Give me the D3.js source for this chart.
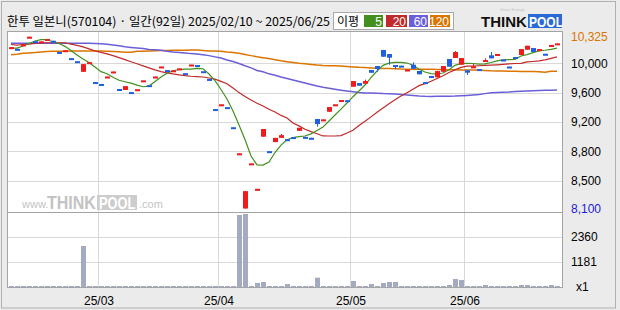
<!DOCTYPE html>
<html>
<head>
<meta charset="utf-8">
<script src="https://cdn.jsdelivr.net/npm/d3@7"></script>
<style>
  body { margin: 0; background: #ebebeb; }
  svg { display: block; }
  text { font-family: "Liberation Sans", Arial, sans-serif; }
  .kr { font-family: "Noto Sans CJK KR", sans-serif; }
</style>
</head>
<body>
<svg id="chart"></svg>
<script>
// ---- data (92 trading days, 2025/02/10 ~ 2025/06/25) ----
const titleText = '한투 일본니(570104) · 일간(92일) 2025/02/10 ~ 2025/06/25';

const opens = [10187,10168,10222,10305,10268,10245,10282,10273,10128,10135,10048,10008,9870,9992,9738,9713,9807,9872,9648,9635,
  9608,9642,9757,9698,9807,9937,9893,9887,9912,9853,9962,9958,9878,9778,9388,9447,9413,9153,8800,8100,
  8682,8352,9030,8843,8960,9015,8998,9025,9105,9028,9016,9259,9252,9353,9447,9483,9503,9677,9725,9716,
  9894,9945,10153,10101,9958,9950,9897,9962,9881,9737,9816,9799,9871,10036,10049,9962,9890,9928,9906,10001,
  10084,10098,10030,9939,10062,10088,10156,10178,10162,10104,10215,10236];
const closes = [10190,10165,10225,10325,10265,10265,10295,10270,10125,10150,10045,10005,9970,9995,9735,9710,9810,9875,9645,9685,
  9605,9645,9760,9695,9810,9940,9890,9890,9915,9850,9965,9955,9875,9775,9385,9450,9410,9150,8815,8325,
  8685,8355,9130,8840,9015,9050,8995,9000,9146,9025,9013,9194,9255,9414,9450,9505,9500,9751,9690,9751,
  9858,9906,10066,10053,9936,9945,9900,9910,9838,9734,9794,9880,9945,9936,10127,10049,9859,9941,9903,10023,
  10045,10101,10027,9936,10036,10165,10208,10127,10165,10101,10218,10239];
// wick extremes only where a wick is visible (null = body edge)
const highs = [null,null,null,null,null,null,null,null,null,null,null,null,null,null,null,null,null,null,null,null,
  null,null,null,null,null,null,null,null,null,null,null,null,null,null,null,null,null,null,null,null,
  null,null,null,null,null,9065,null,null,null,null,null,null,null,null,null,null,null,null,null,9770,
  null,null,10155,null,null,null,null,9993,null,null,null,null,null,null,10140,null,null,9971,null,10045,
  10127,null,null,null,null,null,null,null,null,null,null,null];
const lows = [null,null,null,null,null,null,null,null,null,null,null,null,null,null,null,null,null,null,null,null,
  null,null,null,null,null,null,null,null,null,null,null,null,null,null,null,null,null,null,null,null,
  null,null,null,null,null,null,null,null,null,null,null,9159,null,null,null,null,null,null,null,null,
  null,9872,null,9962,9906,null,null,null,null,null,null,null,null,null,null,null,9829,null,null,null,
  null,null,null,null,null,null,null,null,null,null,10195,null];

const volumes = [45,40,50,45,40,45,50,45,40,45,50,45,1935,45,40,45,50,45,40,45,
  45,40,45,50,45,40,45,45,50,40,45,45,40,45,50,45,45,40,3400,3445,
  45,190,236,45,40,45,140,45,40,45,50,440,45,40,45,50,45,283,45,40,
  140,45,190,236,236,45,40,45,50,45,40,45,45,94,378,330,45,40,45,94,
  45,40,45,50,45,94,94,45,40,45,94,45];

const ma5 = [10178,10178,10204,10237,10269,10288,10288,10256,10237,10200,10146,10088,10036,9991,9932,9872,9846,9799,9761,9742,
  9723,9699,9677,9686,9745,9803,9851,9884,9900,9904,9906,9914,9910,9842,9757,9641,9518,9362,9181,8993,
  8780,8666,8663,8702,8825,8922,8990,9019,9032,9039,9067,9110,9155,9233,9311,9388,9466,9548,9622,9699,
  9794,9881,9954,9982,9993,9992,9984,9956,9903,9868,9847,9842,9855,9897,9954,9980,9980,9978,9971,9974,
  9991,10013,10024,10028,10032,10075,10094,10118,10142,10150,10162,10178];
const ma20 = [10224,10217,10224,10230,10239,10247,10247,10247,10247,10247,10230,10213,10193,10168,10142,10123,10103,10080,10054,10028,
  10001,9975,9948,9922,9896,9872,9857,9843,9831,9821,9813,9809,9803,9790,9776,9746,9717,9660,9601,9552,
  9505,9464,9427,9385,9351,9306,9273,9207,9170,9127,9096,9069,9040,9039,9039,9044,9079,9114,9174,9229,
  9287,9346,9403,9457,9509,9556,9600,9645,9691,9717,9748,9783,9820,9862,9896,9927,9943,9945,9949,9953,
  9957,9961,9966,9972,9978,9980,9998,10004,10011,10026,10045,10064];
const ma60 = [10239,10239,10239,10239,10239,10239,10239,10239,10239,10239,10239,10239,10239,10239,10238,10233,10228,10217,10207,10195,
  10186,10178,10171,10160,10156,10150,10136,10127,10121,10114,10106,10101,10092,10080,10064,10049,10023,10004,9978,9949,
  9922,9888,9870,9844,9825,9804,9785,9765,9745,9725,9706,9686,9671,9658,9645,9633,9622,9611,9601,9597,
  9596,9593,9589,9587,9583,9578,9571,9565,9558,9554,9552,9553,9554,9555,9557,9561,9565,9570,9576,9588,
  9598,9602,9606,9609,9614,9618,9622,9624,9627,9631,9633,9634];
const ma120 = [10092,10099,10110,10115,10120,10128,10134,10137,10138,10138,10140,10140,10140,10140,10140,10140,10137,10133,10129,10125,
  10124,10136,10138,10140,10142,10145,10146,10149,10150,10151,10153,10153,10147,10140,10140,10138,10128,10120,10111,10096,
  10080,10066,10054,10042,10027,10013,10002,9992,9982,9974,9966,9958,9953,9950,9948,9945,9939,9934,9928,9925,
  9921,9917,9914,9912,9909,9906,9905,9905,9904,9903,9903,9901,9900,9897,9896,9894,9894,9894,9891,9888,
  9884,9882,9881,9879,9877,9875,9874,9873,9872,9864,9877,9877];

const maPeriods = ['5', '20', '60', '120'];
const maColors = ['#43901f', '#c02a2a', '#6a5fd8', '#dc7400'];
const maSeries = [ma5, ma20, ma60, ma120];

const priceTicks = [9980, 9600, 9220, 8840, 8460];
const volTicks = [1181, 2360];
const monthTickIdx = [15, 35, 57, 76];
const monthTickLabels = ['25/03', '25/04', '25/05', '25/06'];

// ---- layout ----
const W = 620, H = 310;
const plot = { left: 8, right: 562, top: 32, split: 212, bottom: 288 };

const svg = d3.select('#chart').attr('width', W).attr('height', H);

svg.append('rect').attr('width', W).attr('height', H).attr('fill', '#ebebeb');
svg.append('rect')
  .attr('x', 1.5).attr('y', 1.5).attr('width', 614).attr('height', 306.5)
  .attr('fill', 'none').attr('stroke', '#b0b0b0');

svg.append('rect')
  .attr('x', plot.left).attr('y', plot.top)
  .attr('width', plot.right - plot.left).attr('height', plot.bottom - plot.top)
  .attr('fill', '#fff');

const n = closes.length;
const x = d3.scaleLinear().domain([0, n]).range([plot.left, plot.left + n * 6]);
const y = d3.scaleLinear().domain([8055, 10386]).range([plot.split, plot.top]);
const yVol = d3.scaleLinear().domain([0, 3540]).range([287, plot.split]);

// gridlines
const grid = svg.append('g').attr('stroke', '#d9d9d9').attr('stroke-width', 1);
grid.selectAll('.hp').data(priceTicks).join('line')
  .attr('x1', plot.left).attr('x2', plot.right)
  .attr('y1', d => Math.round(y(d)) + 0.5).attr('y2', d => Math.round(y(d)) + 0.5);
grid.selectAll('.hv').data(volTicks).join('line')
  .attr('x1', plot.left).attr('x2', plot.right)
  .attr('y1', d => Math.round(yVol(d)) + 0.5).attr('y2', d => Math.round(yVol(d)) + 0.5);
grid.selectAll('.v').data(monthTickIdx).join('line')
  .attr('x1', d => x(d) + 0.5).attr('x2', d => x(d) + 0.5)
  .attr('y1', plot.top).attr('y2', plot.bottom);

// watermark (condensed with a horizontal scale so the boxes stay apart)
const wm = svg.append('g').attr('fill', '#c3c3c3');
wm.append('text').attr('x', 22).attr('y', 208).attr('font-size', 11).text('www.');
wm.append('text').attr('transform', 'translate(47,209) scale(0.89,1)')
  .attr('font-size', 18).attr('font-weight', 'bold').text('THINK');
wm.append('rect').attr('x', 97).attr('y', 195).attr('width', 40).attr('height', 15).attr('fill', '#cdcdcd');
wm.append('text').attr('transform', 'translate(99,209) scale(0.8,1)')
  .attr('font-size', 16).attr('font-weight', 'bold').attr('fill', '#fff').text('POOL');
wm.append('text').attr('x', 139).attr('y', 208).attr('font-size', 11).text('.com');

// volume bars
svg.append('g').selectAll('rect').data(volumes).join('rect')
  .attr('x', (d, i) => x(i) + 1)
  .attr('width', 5)
  .attr('y', d => Math.min(yVol(d), 286))
  .attr('height', d => Math.max(1, 287 - yVol(d)))
  .attr('fill', '#a3aac2');

// moving averages
const line = d3.line().x((d, i) => x(i + 0.5)).y(d => y(d));
svg.append('g').selectAll('path').data(maSeries.slice().reverse()).join('path')
  .attr('d', line)
  .attr('fill', 'none')
  .attr('stroke', (d, i) => maColors[3 - i])
  .attr('stroke-width', (d, i) => (3 - i) >= 2 ? 1.5 : 1.2);

// candles
const candles = d3.range(n).map(i => ({
  i, o: opens[i], c: closes[i],
  h: highs[i] ?? Math.max(opens[i], closes[i]),
  l: lows[i] ?? Math.min(opens[i], closes[i])
}));
const cg = svg.append('g').selectAll('g').data(candles).join('g')
  .attr('fill', d => d.c >= d.o ? '#f01c1c' : '#1f5fe0')
  .attr('stroke', d => d.c >= d.o ? '#f01c1c' : '#1f5fe0');
cg.append('line')
  .attr('x1', d => x(d.i) + 3.5).attr('x2', d => x(d.i) + 3.5)
  .attr('y1', d => y(d.h)).attr('y2', d => y(d.l))
  .attr('stroke-width', 1);
cg.append('rect')
  .attr('stroke', 'none')
  .attr('x', d => x(d.i) + 1).attr('width', 5)
  .attr('y', d => y(Math.max(d.o, d.c)))
  .attr('height', d => Math.max(2, y(Math.min(d.o, d.c)) - y(Math.max(d.o, d.c))));

// frame lines
svg.append('rect')
  .attr('x', plot.left - 0.5).attr('y', plot.top - 0.5)
  .attr('width', plot.right - plot.left + 1).attr('height', plot.bottom - plot.top)
  .attr('fill', 'none').attr('stroke', '#a4a4a4');
svg.append('line')
  .attr('x1', plot.left).attr('x2', plot.right)
  .attr('y1', plot.split + 0.5).attr('y2', plot.split + 0.5)
  .attr('stroke', '#a4a4a4');

// right price axis
const fmt = d3.format(',');
const priceAxis = d3.axisRight(y).tickValues(priceTicks).tickSize(0).tickPadding(9)
  .tickFormat(v => fmt(Math.round(v / 100) * 100));
svg.append('g').attr('transform', `translate(${plot.right},0)`).call(priceAxis)
  .call(g => g.select('.domain').remove())
  .selectAll('text').attr('font-size', 12).attr('fill', '#000')
  .attr('font-family', '"Liberation Sans", Arial, sans-serif');

const maxHigh = d3.max(candles, d => d.h), minLow = d3.min(candles, d => d.l);
svg.append('text').attr('x', 571).attr('y', y(maxHigh)).attr('dy', '0.35em')
  .attr('font-size', 12).attr('fill', '#dc7400').text(fmt(maxHigh));
svg.append('text').attr('x', 571).attr('y', y(minLow)).attr('dy', '0.35em')
  .attr('font-size', 12).attr('fill', '#1a1ad8').text(fmt(minLow));

// volume axis
const volAxis = d3.axisRight(yVol).tickValues(volTicks).tickSize(0).tickPadding(9)
  .tickFormat(d3.format('d'));
svg.append('g').attr('transform', `translate(${plot.right},0)`).call(volAxis)
  .call(g => g.select('.domain').remove())
  .selectAll('text').attr('font-size', 12).attr('fill', '#000')
  .attr('font-family', '"Liberation Sans", Arial, sans-serif');
svg.append('text').attr('x', 576).attr('y', yVol(0)).attr('dy', '0.35em')
  .attr('font-size', 12).text('x1');

// month labels
svg.append('g').selectAll('text').data(monthTickIdx).join('text')
  .attr('x', d => x(d) + 1).attr('y', 305)
  .attr('text-anchor', 'middle').attr('font-size', 12)
  .text((d, i) => monthTickLabels[i]);

// title
svg.append('text').attr('class', 'kr').attr('x', 7).attr('y', 26)
  .attr('font-size', 12.4).attr('fill', '#000')
  .text(titleText);

// legend
const lg = svg.append('g');
lg.append('rect').attr('x', 333.5).attr('y', 12.5).attr('width', 120).attr('height', 17)
  .attr('fill', '#fff').attr('stroke', '#a8a8a8');
lg.append('text').attr('class', 'kr').attr('x', 337).attr('y', 25.5).attr('font-size', 12)
  .text('이평');
const boxX = [364, 386, 409, 430], boxW = [19, 21, 19, 20];
maPeriods.forEach((p, i) => {
  lg.append('rect').attr('x', boxX[i]).attr('y', 15).attr('width', boxW[i]).attr('height', 12)
    .attr('fill', maColors[i]);
  lg.append('text').attr('x', boxX[i] + boxW[i] - 1).attr('y', 25.5)
    .attr('text-anchor', 'end').attr('font-size', 12).attr('fill', '#fff').text(p);
});

// logo
const logo = svg.append('g');
logo.append('text').attr('x', 500).attr('y', 11).attr('font-size', 4).attr('fill', '#c4c4c4').text('Smart Energy');
logo.append('text').attr('x', 481).attr('y', 27)
  .attr('font-size', 15).attr('font-weight', 'bold').attr('fill', '#111').text('THINK');
logo.append('rect').attr('x', 528).attr('y', 14).attr('width', 34).attr('height', 14).attr('fill', '#2a6ad6');
logo.append('text').attr('transform', 'translate(529,27) scale(0.8,1)')
  .attr('font-size', 15).attr('font-weight', 'bold').attr('fill', '#fff').text('POOL');
</script>
</body>
</html>
